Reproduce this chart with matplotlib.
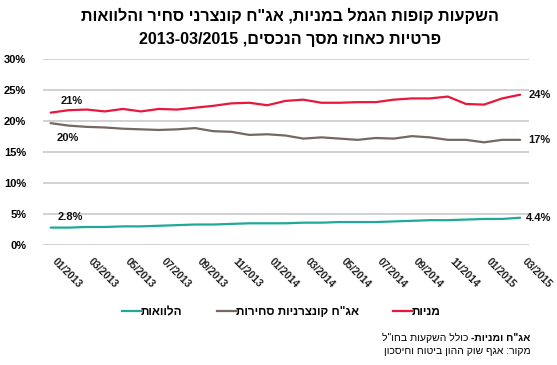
import matplotlib
matplotlib.use("Agg")
import matplotlib.pyplot as plt
import matplotlib.transforms as mtransforms
from matplotlib.lines import Line2D
import re

plt.rcParams["font.family"] = ["Liberation Sans", "DejaVu Sans"]

# נתונים — אחוז מסך הנכסים, חודשי 01/2013 - 03/2015
months = ["01/2013", "02/2013", "03/2013", "04/2013", "05/2013", "06/2013", "07/2013",
          "08/2013", "09/2013", "10/2013", "11/2013", "12/2013", "01/2014", "02/2014",
          "03/2014", "04/2014", "05/2014", "06/2014", "07/2014", "08/2014", "09/2014",
          "10/2014", "11/2014", "12/2014", "01/2015", "02/2015", "03/2015"]
stocks = [21.4, 21.8, 21.9, 21.6, 22.0, 21.6, 22.0, 21.9, 22.2, 22.5, 22.9, 23.0, 22.6, 23.3,
          23.5, 23.0, 23.0, 23.1, 23.1, 23.5, 23.7, 23.7, 24.0, 22.8, 22.7, 23.7, 24.3]
bonds = [19.7, 19.3, 19.1, 19.0, 18.8, 18.7, 18.6, 18.7, 18.9, 18.4, 18.3, 17.8, 17.9, 17.7,
         17.2, 17.4, 17.2, 17.0, 17.3, 17.2, 17.6, 17.4, 17.0, 17.0, 16.6, 17.0, 17.0]
loans = [2.8, 2.8, 2.9, 2.9, 3.0, 3.0, 3.1, 3.2, 3.3, 3.3, 3.4, 3.5, 3.5, 3.5, 3.6, 3.6,
         3.7, 3.7, 3.7, 3.8, 3.9, 4.0, 4.0, 4.1, 4.2, 4.2, 4.4]
yticks = [0, 5, 10, 15, 20, 25, 30]

RED = "#E8173C"
BROWN = "#756863"
TEAL = "#20A898"


def heb(s):
    # matplotlib לא עושה bidi: הופכים את הסדר אבל משאירים מספרים/לטינית כמו שהם
    out = s[::-1]
    return re.sub(r"[0-9A-Za-z%./\-]*[0-9A-Za-z][0-9A-Za-z%./\-]*",
                  lambda m: m.group(0)[::-1], out)


fig = plt.figure(figsize=(5.57, 3.65), dpi=100)
ax = fig.add_axes([0.077, 0.329, 0.873, 0.508])

x = list(range(len(months)))
ax.plot(x, stocks, color=RED, lw=1.6, solid_capstyle="round")
ax.plot(x, bonds, color=BROWN, lw=1.6, solid_capstyle="round")
ax.plot(x, loans, color=TEAL, lw=1.6, solid_capstyle="round")

ax.set_xlim(-0.43, 26.5)
ax.set_ylim(0, 30)
ax.set_yticks(yticks)
ax.set_yticklabels([f"{v}%" for v in yticks], fontsize=8, fontweight="bold")
ax.yaxis.grid(True, color="#C9C9C9", lw=1.2)
ax.set_axisbelow(True)
for s in ax.spines.values():
    s.set_visible(False)
ax.tick_params(length=0, pad=12)

ax.set_xticks(x[::2])
ax.set_xticklabels(months[::2], rotation=-45, ha="left", va="top",
                   rotation_mode="anchor", fontsize=7.5, fontweight="bold", color="#222222")
ax.tick_params(axis="x", pad=8)
shift = mtransforms.ScaledTranslation(5 / 72, 0, fig.dpi_scale_trans)
for t in ax.get_xticklabels():
    t.set_transform(t.get_transform() + shift)

# תוויות ערכים בתחילת ובסוף הסדרות
lab = dict(fontsize=8, fontweight="bold", color="#111111")
ax.annotate(f"{stocks[0]:.0f}%", (x[0], stocks[0]), xytext=(7, 5), textcoords="offset points", ha="left", va="bottom", **lab)
ax.annotate(f"{bonds[0]:.0f}%", (x[0], bonds[0]), xytext=(4, -7), textcoords="offset points", ha="left", va="top", **lab)
ax.annotate(f"{loans[0]:.1f}%", (x[0], loans[0]), xytext=(5, 4), textcoords="offset points", ha="left", va="bottom", **lab)
ax.annotate(f"{stocks[-1]:.0f}%", (x[-1], stocks[-1]), xytext=(6, 0), textcoords="offset points", ha="left", va="center", **lab)
ax.annotate(f"{bonds[-1]:.0f}%", (x[-1], bonds[-1]), xytext=(6, 0), textcoords="offset points", ha="left", va="center", **lab)
ax.annotate(f"{loans[-1]:.1f}%", (x[-1], loans[-1]), xytext=(4, 0), textcoords="offset points", ha="left", va="center", **lab)

fig.text(0.52, 0.957, heb("השקעות קופות הגמל במניות, אג\"ח קונצרני סחיר והלוואות"),
         ha="center", va="center", fontsize=11.6, fontweight="bold")
fig.text(0.52, 0.892, heb("פרטיות כאחוז מסך הנכסים, 2013-03/2015"),
         ha="center", va="center", fontsize=11.6, fontweight="bold")

handles = [Line2D([], [], color=TEAL, lw=1.6),
           Line2D([], [], color=BROWN, lw=1.6),
           Line2D([], [], color=RED, lw=1.6)]
labels = [heb("הלוואות"), heb("אג\"ח קונצרניות סחירות"), heb("מניות")]
fig.legend(handles, labels, loc="center", bbox_to_anchor=(0.505, 0.145), ncol=3,
           frameon=False, prop={"weight": "bold", "size": 8.5}, handlelength=1.6,
           handletextpad=0.0, columnspacing=2.9)

# הערות שוליים עם חלק מודגש
renderer = fig.canvas.get_renderer()
xr = 0.953
t1 = fig.text(xr, 0.074, heb("אג\"ח ומניות-"), ha="right", va="center", fontsize=7.5, fontweight="bold")
w1 = t1.get_window_extent(renderer).width / fig.bbox.width
fig.text(xr - w1 - 0.006, 0.074, heb("כולל השקעות בחו\"ל"), ha="right", va="center", fontsize=7.5)
fig.text(xr, 0.038, heb("מקור: אגף שוק ההון ביטוח וחיסכון"), ha="right", va="center", fontsize=7.5)

fig.savefig("out.png", dpi=100)
